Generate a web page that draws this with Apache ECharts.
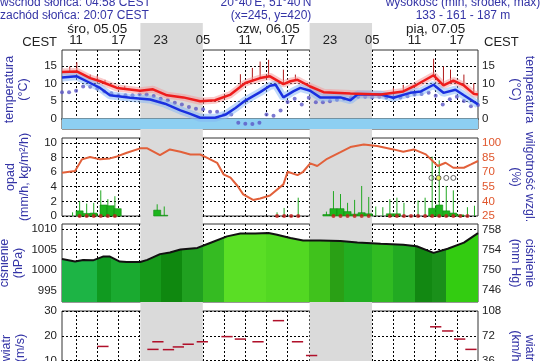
<!DOCTYPE html>
<html><head><meta charset="utf-8">
<script src="https://cdn.jsdelivr.net/npm/echarts@6/dist/echarts.min.js"></script>
<style>html,body{margin:0;padding:0;background:#fff}#c{width:540px;height:361px}</style>
</head><body><div id="c"></div>
<script>
// ---------- data ----------
const X_MIN = 9, X_MAX = 68;               // hours since 05.05 00:00 (CEST)
const gridHours = [11,14,17,20,23,26,29,32,35,38,41,44,47,50,53,56,59,62,65];
const hourTickValues = [11,17,23,29,35,41,47,53,59,65];
const hourTickLabels = ['11','17','23','05','11','17','23','05','11','17'];
const dateHours = [14.0,38.2,62.0];
const dateLabels = ['śro, 05.05','czw, 06.05','pią, 07.05'];
const nightStart = [20.12,44.12];
const nightEnd = [28.97,52.97];

const tempHours = [9,11.1,13,14.4,16.8,20.1,21.9,23.9,26.2,28.6,30.7,32.9,35,37.1,38.5,40.4,41.4,42.4,44.2,46.1,49.9,54.2,57.4,59.3,61.7,63.1,64.5,66,67.4,68];
const tempValues = [13.2,13.4,11.5,10.6,8.7,7.9,8.3,6.6,6.0,4.9,5.2,6.8,10.1,11.5,12.0,9.8,10.6,11.0,9.1,7.5,7.1,6.8,7.7,9.6,12.3,9.4,10.8,9.4,7.0,6.8];
const dewHours = [9,11.1,13,14.4,15.8,18.7,21.5,23.6,25.8,27.2,28.6,30.7,32.2,33.6,35,37.1,38.5,39.3,40.4,41.8,42.8,44.2,45.6,48.5,49.9,50.9,54.2,56,58.4,59.9,61.7,63.1,64.8,66,68];
const dewValues = [11.7,12.0,10.1,8.7,6.6,5.9,5.4,4.2,2.3,1.3,0.2,0.2,1.1,3.0,5.1,7.5,9.3,9.6,6.0,7.7,8.7,7.9,6.0,6.0,5.2,6.8,6.8,5.9,7.3,7.7,9.6,7.3,8.2,6.6,4.0];
const feelHours = [9,10,11,12,13,14,15,16,17,18,19,20,21,22,23,24,25,26,27,28,29,30,31,32,33,34,35,36,37,38,39,40,41,42,43,44,45,46,47,48,49,50,51,52,53,54,55,56,57,58,59,60,61,62,63,64,65,66,67,68];
const feelValues = [7.5,7.5,7.9,9.1,9.0,8.5,7.7,7.2,6.6,6.6,6.6,6.8,6.8,6.4,5.6,5.2,4.5,4.0,3.3,2.8,2.6,1.9,1.9,1.1,1.1,-1.2,-1.5,-1.6,-1.2,1.1,0.8,2.3,4.7,5.6,4.0,5.9,4.6,4.6,4.9,5.3,5.6,6.0,6.2,6.2,6.0,6.2,6.0,6.0,6.0,6.3,6.8,7.0,7.3,6.5,4.0,5.5,6.2,5.0,3.5,3.8];
const tickHours = [10.1,11.1,13.0,14.0,15.1,17.9,34.3,36.0,37.1,38.3,40.4,42.1,56.0,57.4,61.7,63.1,64.1,66.0,67.4];
const tickLow  = [13.3,13.4,11.5,11.0,10.2,8.3,8.8,10.8,11.5,11.9,9.8,11.0,6.8,7.7,12.3,9.4,10.0,9.4,7.0];
const tickHigh = [14.8,16.0,12.5,12.2,11.0,9.3,12.6,14.4,16.2,16.7,13.9,12.5,8.7,9.6,17.0,14.8,13.9,12.5,10.0];
const frostBand = [0,-3];

const precipHours = [11.5,12.5,13.5,14.9,15.9,16.9,22.5,23.5,46.5,47.5,48.5,49.5,50.5,51.5,52.5,55.5,56.5,61.5,62.5,63.5,64.5,65.5];
const precipValues = [0.7,0.35,0.4,1.5,1.4,1.0,0.8,0.1,0.2,1.0,1.0,0.6,0.25,0.45,0.3,0.3,0.3,1.05,1.5,0.7,0.4,0.15];
const spikeHours = [10.5,11.5,12.5,13.5,14.5,15.5,16.5,22.5,23.5,39.5,40.5,42.5,46.5,47.5,48.5,49.5,50.5,51.5,52.5,53.5,54.5,55.5,56.5,57.5,59.5,60.5,61.5,62.5,63.5,64.5,66.5,67.5];
const spikeValues = [0.5,2.0,1.7,1.8,3.5,2.3,2.7,1.6,1.3,0.5,1.1,2.5,0.6,3.4,3.0,1.8,2.2,4.1,2.6,1.3,1.2,2.3,2.5,1.8,2.1,2.5,8.1,7.6,4.1,3.5,1.2,1.4];
const rainDotHours = [11.5,12.5,13.5,14.5,15.5,16.5,39.5,40.5,41.5,42.5,47.5,48.5,49.5,50.5,51.5,52.5,55.5,56.5,57.5,58.5,59.5,60.5,61.5,62.5,63.5,64.5,65.5,66.5];
const stormHours = [61.4,62.4,63.5,64.5];
const stormLevel = [5.2,5.2,5.2,5.2];
const humHours = [9,10.85,11.84,12.98,14.4,15.8,16.8,18.2,20.1,21.1,22.9,24.3,25.8,27.2,28.6,29.6,31.0,31.9,32.9,33.9,34.7,36.1,37.1,38.5,40.4,41.0,42.4,43.2,44.2,45.2,46.6,48.5,49.9,51.8,53.7,56.0,57.4,58.9,60.6,62.3,63.4,64.5,66.0,67.0,68];
const humValues = [69.3,71,83,85.4,83,84,86,89.8,94.3,94.3,87.4,93.2,90.8,88,88,84.6,79.5,67.7,64.2,55.7,47.2,41.4,43.0,46,57.4,70.3,66.9,70.3,78.9,76.2,83.6,90.5,95.6,98.3,96.6,93.2,90.8,93.2,88.1,76.2,79.5,74.4,74.4,77.8,81.3];

const pressHours = [9,10.85,12,13.4,14.8,15.8,17.2,18.2,20.1,21.1,22.9,24.3,25.8,28.2,30.0,32.4,34.3,36.4,38.3,39.5,41.4,43.2,45.6,48.5,50.9,54.2,57.4,59.3,61.7,63.7,66.0,68];
const pressValues = [1002.7,1002.1,1002.5,1002.4,1003.3,1003.3,1002.1,1002.0,1002.0,1002.5,1003.9,1004.3,1005.0,1005.4,1006.6,1008.2,1008.9,1008.9,1009.0,1008.6,1007.8,1007.2,1007.2,1007.1,1006.7,1006.4,1006.2,1005.8,1004.2,1005.2,1006.7,1009.0];

const windHours = [14.8,21.9,22.6,24.1,25.5,26.9,28.9,32.4,34.3,36.8,39.7,42.4,44.4,62.0,63.7,65.4,67.0];
const windValues = [15.7,14.5,17.6,14.4,15.5,16.6,17.6,19.7,18.7,17.6,26.2,17.6,12.0,23.7,22.0,18.7,14.5];

// axis ticks
const tempTicks = [0,5,10,15];
const precipTicks = [0,2,4,6,8,10];
const humTicks = [25,40,55,70,85,100];
const hpaTicks = [995,1000,1005,1010];
const mmhgTicks = [746,750,754,758];
const windTicks = [10,20,30];
const kmhTicks = [36,72,108];

// ---------- style ----------
const FONT = 'Liberation Sans';
const NAVY = '#3434a6';
const pStripes = [[9,14,'#1db445'],[14,16,'#109a20'],[16,20,'#1aaa30'],[20,23,'#169a1a'],[23,26,'#0f880f'],[26,29,'#20a020'],[29,32,'#35bb22'],[32,38,'#5ade25'],[38,44,'#52d822'],[44,47,'#40c21c'],[47,49,'#2aa015'],[49,53,'#22ae22'],[53,56,'#30bb22'],[56,59,'#22aa22'],[59,61.5,'#128812'],[61.5,63.5,'#1a901a'],[63.5,68,'#33cc11']];
const stops = [];
pStripes.forEach(s => {
  stops.push({offset:(s[0]-X_MIN)/(X_MAX-X_MIN), color:s[2]});
  stops.push({offset:Math.min(1,(s[1]-X_MIN)/(X_MAX-X_MIN)-0.0001), color:s[2]});
});

const zip = (a,b) => a.map((v,i)=>[v,b[i]]);
const splitStyle = {show:true, lineStyle:{color:'#000', width:1, type:[2,2]}};

function xAx(gi, extra) {
  return Object.assign({
    type:'value', gridIndex:gi, min:X_MIN, max:X_MAX,
    axisLine:{show:false}, axisTick:{show:false, customValues:gridHours},
    axisLabel:{show:false}, splitLine:splitStyle
  }, extra||{});
}
function yAx(gi, min, max, ticks, pos, name, gap, opts) {
  opts = opts || {};
  return {
    type:'value', gridIndex:gi, min:min, max:max, position:pos,
    axisLine:{show:false},
    axisTick:{show:false, customValues: ticks},
    axisLabel:{customValues:ticks, fontFamily:FONT, fontSize:11.5, color:opts.labelColor||'#222', margin:pos==='left'?5:4,
      formatter:v=>String(v)},
    splitLine: pos==='left' ? {show:true, lineStyle:{color:'#000', width:1, type:[2,2]}} : {show:false},
    name:name, nameLocation:'middle', nameRotate: pos==='left'?90:-90,
    nameGap: gap, nameMoveOverlap:false,
    nameTextStyle:{fontFamily:FONT, fontSize:12.5, color:NAVY, lineHeight:14, align:'center'}
  };
}
const G = {left:62, right:62, show:true, borderColor:'#333', borderWidth:1, outerBoundsMode:'none', containLabel:false};

const option = {
  animation:false,
  backgroundColor:'#fff',
  grid:[
    Object.assign({top:50, height:79}, G),
    Object.assign({top:138, height:78}, G),
    Object.assign({top:224, height:78}, G),
    Object.assign({top:311, height:74}, G),
    {left:62, right:62, top:23, height:338, show:false, outerBoundsMode:'none'}
  ],
  xAxis:[
    xAx(0, {position:'top', axisLine:{show:true, lineStyle:{color:'#555', width:2}},
      axisLabel:{show:true, customValues:hourTickValues, margin:3, fontFamily:FONT, fontSize:13, color:'#222',
        formatter:v=>hourTickLabels[hourTickValues.indexOf(v)]}}),
    xAx(1), xAx(2), xAx(3),
    {type:'value', gridIndex:0, min:X_MIN, max:X_MAX, position:'top', offset:12,
      axisLine:{show:false}, axisTick:{show:false}, splitLine:{show:false},
      axisLabel:{customValues:dateHours, fontFamily:FONT, fontSize:13.5, color:'#222', margin:2,
        formatter:v=>dateLabels[dateHours.indexOf(v)]}},
    {type:'value', gridIndex:4, min:X_MIN, max:X_MAX, show:false}
  ],
  yAxis:[
    yAx(0,-3,19.5,tempTicks,'left','temperatura\n(°C)',31),
    yAx(0,-3,19.5,tempTicks,'right','temperatura\n(°C)',30),
    yAx(1,0,10.65,precipTicks,'left','opad\n(mm/h, kg/m²/h)',30),
    yAx(1,25,104.875,humTicks,'right','wilgotność wzgl.\n(%)',30,{labelColor:'#e0562c'}),
    yAx(2,992.3,1011.2,hpaTicks,'left','ciśnienie\n(hPa)',36),
    yAx(2,743.54,759.14,mmhgTicks,'right','ciśnienie\n(mm Hg)',30),
    yAx(3,0,30.13,windTicks,'left','wiatr\n(m/s)',34),
    yAx(3,0,108.47,kmhTicks,'right','wiatr\n(km/h)',30),
    {type:'value', gridIndex:4, min:0, max:1, show:false}
  ],
  graphic:[
    {type:'text', x:0, y:3, style:{text:'wschód słońca: 04:58 CEST', fill:NAVY, font:'12px '+FONT, textAlign:'left', textVerticalAlign:'middle'}},
    {type:'text', x:0, y:15.5, style:{text:'zachód słońca: 20:07 CEST', fill:NAVY, font:'12px '+FONT, textAlign:'left', textVerticalAlign:'middle'}},
    {type:'text', x:266, y:3, style:{text:"20°40'E, 51°40'N", fill:NAVY, font:'12px '+FONT, textAlign:'center', textVerticalAlign:'middle'}},
    {type:'text', x:271, y:15.5, style:{text:'(x=245, y=420)', fill:NAVY, font:'12px '+FONT, textAlign:'center', textVerticalAlign:'middle'}},
    {type:'text', x:463, y:3, style:{text:'wysokość (min, środek, max)', fill:NAVY, font:'12px '+FONT, textAlign:'center', textVerticalAlign:'middle'}},
    {type:'text', x:463, y:15.5, style:{text:'133 - 161 - 187 m', fill:NAVY, font:'12px '+FONT, textAlign:'center', textVerticalAlign:'middle'}},
    {type:'text', x:57, y:42, style:{text:'CEST', fill:'#222', font:'13px '+FONT, textAlign:'right', textVerticalAlign:'middle'}},
    {type:'text', x:484, y:42, style:{text:'CEST', fill:'#222', font:'13px '+FONT, textAlign:'left', textVerticalAlign:'middle'}}
  ],
  series:[
    {type:'custom', xAxisIndex:5, yAxisIndex:8, z:0, silent:true,
      data: zip(nightStart, nightEnd),
      renderItem:(p,api)=>{const a=api.coord([api.value(0),1]), b=api.coord([api.value(1),0]);
        return {type:'rect', shape:{x:a[0],y:a[1],width:b[0]-a[0],height:b[1]-a[1]}, style:{fill:'#dadada'}};}},
    {type:'custom', xAxisIndex:0, yAxisIndex:0, silent:true, data:[frostBand],
      renderItem:(p,api)=>{const a=api.coord([X_MIN,api.value(0)]), b=api.coord([X_MAX,api.value(1)]);
        return {type:'rect', shape:{x:a[0],y:a[1],width:b[0]-a[0],height:b[1]-a[1]}, style:{fill:'#8dcff2'}};}},
    {type:'line', xAxisIndex:0, yAxisIndex:0, data:zip(tempHours,tempValues), symbol:'none', silent:true,
      lineStyle:{width:7, color:'rgba(245,150,150,0.5)'}},
    {type:'line', xAxisIndex:0, yAxisIndex:0, data:zip(dewHours,dewValues), symbol:'none', silent:true,
      lineStyle:{width:8, color:'rgba(130,180,245,0.5)'}},
    {type:'scatter', xAxisIndex:0, yAxisIndex:0, data:zip(feelHours,feelValues), symbolSize:4,
      itemStyle:{color:'#5b56c6'}, silent:true},
    {type:'custom', xAxisIndex:0, yAxisIndex:0, silent:true,
      data: tickHours.map((h,i)=>[h,tickLow[i],tickHigh[i]]),
      renderItem:(p,api)=>{const a=api.coord([api.value(0),api.value(1)]), b=api.coord([api.value(0),api.value(2)]);
        return {type:'line', shape:{x1:a[0],y1:a[1],x2:b[0],y2:b[1]}, style:{stroke:'#b01818', lineWidth:1}};}},
    {type:'line', xAxisIndex:0, yAxisIndex:0, data:zip(dewHours,dewValues), symbol:'none', silent:true,
      lineStyle:{width:2.5, color:'#1a30e0'}},
    {type:'line', xAxisIndex:0, yAxisIndex:0, data:zip(tempHours,tempValues), symbol:'none', silent:true,
      lineStyle:{width:2.5, color:'#ee1c1c'}},
    // precipitation
    {type:'custom', xAxisIndex:1, yAxisIndex:2, silent:true, data:zip(spikeHours,spikeValues),
      renderItem:(p,api)=>{const a=api.coord([api.value(0),0]), b=api.coord([api.value(0),api.value(1)]);
        return {type:'line', shape:{x1:a[0],y1:a[1],x2:b[0],y2:b[1]}, style:{stroke:'#22a822', lineWidth:1}};}},
    {type:'custom', xAxisIndex:1, yAxisIndex:2, silent:true, data:zip(precipHours,precipValues),
      renderItem:(p,api)=>{const a=api.coord([api.value(0)-0.5,api.value(1)]), b=api.coord([api.value(0)+0.5,0]);
        return {type:'rect', shape:{x:a[0],y:a[1],width:b[0]-a[0],height:b[1]-a[1]}, style:{fill:'#1db51d', stroke:'#118a11', lineWidth:0.6}};}},
    {type:'scatter', xAxisIndex:1, yAxisIndex:2, data:rainDotHours.map(h=>[h,0]), symbolSize:4,
      itemStyle:{color:'#c41c1c'}, silent:true, z:4},
    {type:'line', xAxisIndex:1, yAxisIndex:3, data:zip(humHours,humValues), symbol:'none', silent:true,
      lineStyle:{width:2, color:'#e2603a'}},
    {type:'scatter', xAxisIndex:1, yAxisIndex:2, data:zip(stormHours,stormLevel), symbol:'circle', symbolSize:5,
      itemStyle:{color:p=>p.dataIndex===1?'#f3ec3a':'rgba(0,0,0,0)', borderColor:'#444', borderWidth:1}, silent:true},
    // pressure
    {type:'line', xAxisIndex:2, yAxisIndex:4, data:zip(pressHours,pressValues), symbol:'none', silent:true,
      lineStyle:{width:2, color:'#111'},
      areaStyle:{opacity:1, color:new echarts.graphic.LinearGradient(0,0,1,0,stops)}},
    // wind
    {type:'custom', xAxisIndex:3, yAxisIndex:6, silent:true, data:zip(windHours,windValues),
      renderItem:(p,api)=>{const a=api.coord([api.value(0)-0.8,api.value(1)]), b=api.coord([api.value(0)+0.8,api.value(1)]);
        return {type:'line', shape:{x1:a[0],y1:a[1],x2:b[0],y2:b[1]}, style:{stroke:'#b0102a', lineWidth:1.5}};}}
  ]
};
const chart = echarts.init(document.getElementById('c'), null, {renderer:'canvas'});
chart.setOption(option);
</script>
</body></html>
